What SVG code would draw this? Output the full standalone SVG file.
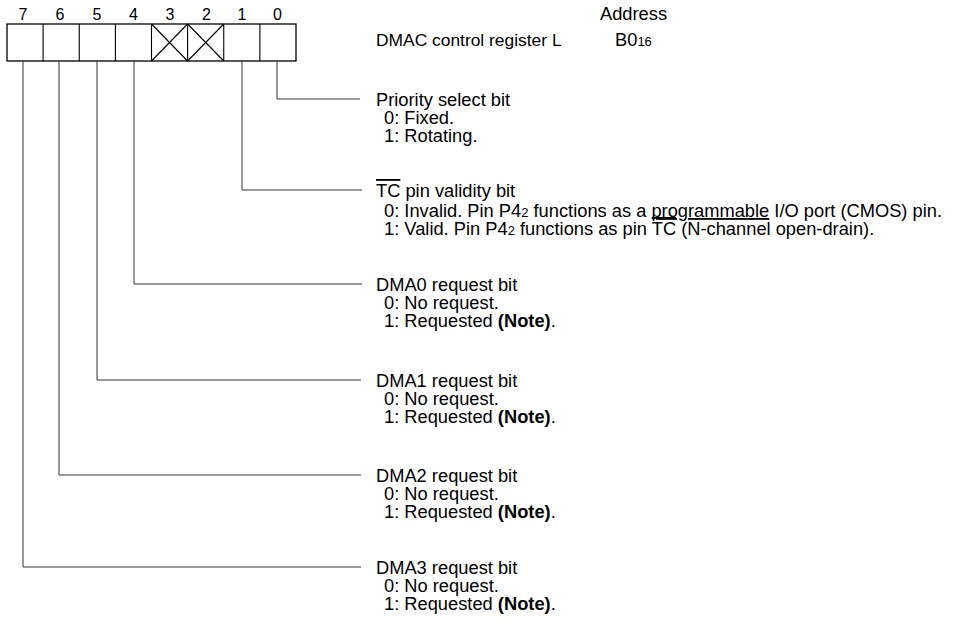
<svg xmlns="http://www.w3.org/2000/svg" width="960" height="627" viewBox="0 0 960 627">
<style>
text{font-family:"Liberation Sans",Arial,sans-serif;fill:#000}
.t{font-size:18.3px}
.h{font-size:17.4px}
.d{font-size:16px;text-anchor:middle}
.s{font-size:13px}
.b{font-weight:bold}
.ol{text-decoration:overline}
.ul{text-decoration:underline}
.reg{fill:#fff;stroke:#000;stroke-width:1.3}
.x{stroke:#000;stroke-width:1.1;fill:none}
.ld{stroke:#333;stroke-width:1;fill:none}
</style>
<rect width="960" height="627" fill="#fff"/>
<g id="register">
<rect class="reg" x="7" y="24" width="289" height="37"/>
<path class="x" d="M43.1 24V61M79.25 24V61M115.4 24V61M151.5 24V61M187.6 24V61M223.75 24V61M259.9 24V61"/>
<path class="x" d="M151.5 24L187.6 61M187.6 24L151.5 61M187.6 24L223.75 61M223.75 24L187.6 61"/>
<text class="d" x="23" y="20">7</text>
<text class="d" x="60" y="20">6</text>
<text class="d" x="97" y="20">5</text>
<text class="d" x="133.5" y="20">4</text>
<text class="d" x="170" y="20">3</text>
<text class="d" x="206.5" y="20">2</text>
<text class="d" x="242" y="20">1</text>
<text class="d" x="277.5" y="20">0</text>
</g>
<g id="title">
<text class="h" x="376" y="46">DMAC control register L</text>
<text class="t" x="600" y="20">Address</text>
<text class="t" x="615" y="46">B0<tspan class="s">16</tspan></text>
</g>
<g id="connectors">
<path class="ld" d="M277 61V99H360"/>
<path class="ld" d="M242 61V190H362"/>
<path class="ld" d="M134 61V284H362"/>
<path class="ld" d="M97 61V380H361"/>
<path class="ld" d="M59 61V475H361"/>
<path class="ld" d="M23 61V567H361"/>
</g>
<g id="bit0">
<text class="t" x="376" y="106">Priority select bit</text>
<text class="t" x="384" y="124">0: Fixed.</text>
<text class="t" x="384" y="142">1: Rotating.</text>
</g>
<g id="bit1">
<text class="t" x="376" y="197"><tspan class="ol">TC</tspan> pin validity bit</text>
<text class="t" x="384" y="217">0: Invalid. Pin P4<tspan class="s">2</tspan> functions as a <tspan class="ul">programmable</tspan> I/O port (CMOS) pin.</text>
<text class="t" x="384" y="235">1: Valid. Pin P4<tspan class="s">2</tspan> functions as pin <tspan class="ol">TC</tspan> (N-channel open-drain).</text>
</g>
<g id="bit4">
<text class="t" x="376" y="291">DMA0 request bit</text>
<text class="t" x="384" y="309">0: No request.</text>
<text class="t" x="384" y="327">1: Requested <tspan class="b">(Note)</tspan>.</text>
</g>
<g id="bit5">
<text class="t" x="376" y="387">DMA1 request bit</text>
<text class="t" x="384" y="405">0: No request.</text>
<text class="t" x="384" y="423">1: Requested <tspan class="b">(Note)</tspan>.</text>
</g>
<g id="bit6">
<text class="t" x="376" y="482">DMA2 request bit</text>
<text class="t" x="384" y="500">0: No request.</text>
<text class="t" x="384" y="518">1: Requested <tspan class="b">(Note)</tspan>.</text>
</g>
<g id="bit7">
<text class="t" x="376" y="574">DMA3 request bit</text>
<text class="t" x="384" y="592">0: No request.</text>
<text class="t" x="384" y="610">1: Requested <tspan class="b">(Note)</tspan>.</text>
</g>
</svg>
